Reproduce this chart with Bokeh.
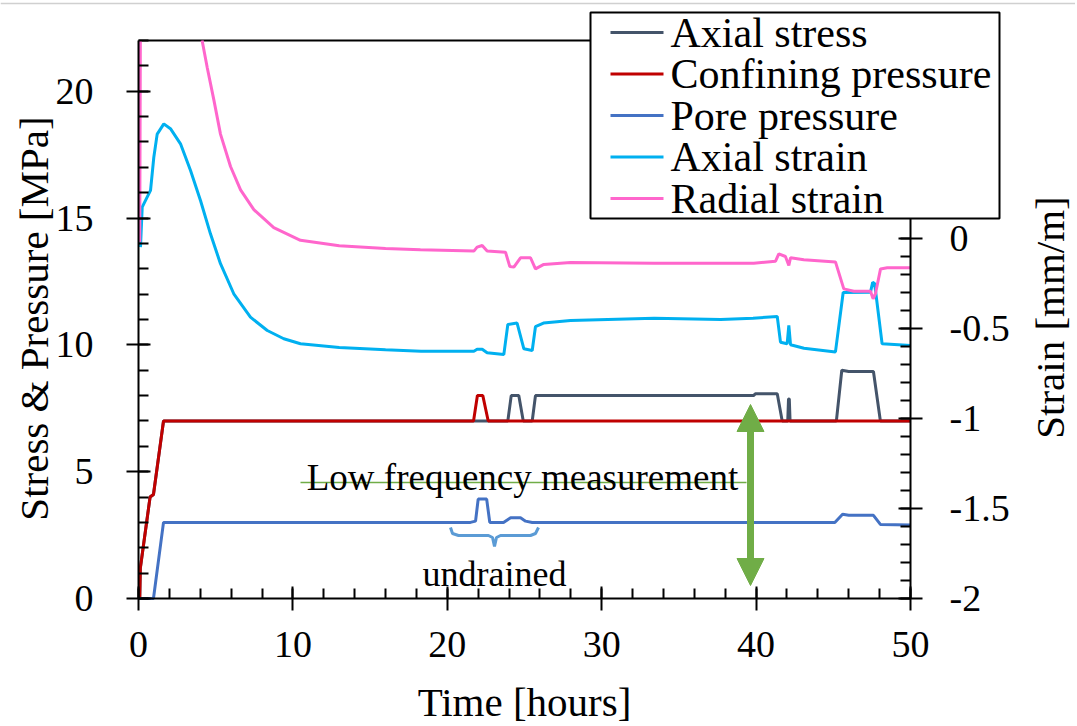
from bokeh.plotting import figure
from bokeh.models import (Range1d, LinearAxis, SingleIntervalTicker, FixedTicker,
                          Arrow, NormalHead, Label, CustomJSTickFormatter)
from bokeh.core.properties import value
from bokeh.embed import file_html
from bokeh.resources import INLINE
import math

nan = float("nan")

# ---------------- data ----------------
time_axial_stress = [0, 0.08, 0.12, 0.75, 0.97, 1.62, 23.92, 24.14, 24.63, 24.92, 25.5, 25.71,
                     39.83, 39.95, 41.37, 41.69, 42.05, 42.1, 42.15, 42.2, 45.2, 45.55, 46.0,
                     47.6, 48.05, 50]
axial_stress = [0, 0, 1.2, 4.0, 4.1, 7.0, 7.0, 8.0, 8.0, 7.0, 7.0, 8.0,
                8.0, 8.07, 8.07, 7.0, 7.0, 7.87, 7.87, 7.0, 7.0, 9.0, 8.95,
                8.95, 7.0, 7.0]

time_confining = [0, 0.08, 0.12, 0.75, 0.97, 1.62, 21.7, 21.95, 22.3, 22.65, 50]
confining_pressure = [0, 0, 1.2, 4.0, 4.1, 7.0, 7.0, 8.0, 8.0, 7.0, 7.0]

time_pore = [0, 0.97, 1.62, 21.5, 21.83, 22.0, 22.55, 22.75, 23.64, 24.1, 24.74, 25.07, 25.5,
             45.1, 45.6, 46.0, 47.6, 48.05, 50]
pore_pressure = [0, 0, 3.0, 3.0, 3.05, 3.92, 3.92, 3.0, 3.0, 3.18, 3.18, 3.05, 3.0,
                 3.0, 3.32, 3.28, 3.28, 2.92, 2.9]

time_axial_strain = [0.13, 0.24, 0.56, 0.78, 0.99, 1.21, 1.64, 2.07, 2.72, 3.37, 4.02, 4.66,
                     5.31, 6.17, 7.25, 8.34, 9.41, 10.49, 13.0, 16.0, 18.3, 21.72, 21.93,
                     22.26, 22.58, 23.66, 23.92, 24.52, 24.96, 25.5, 25.71, 26.23, 27.98,
                     33.4, 37.7, 39.8, 41.37, 41.58, 42.01, 42.12, 42.23, 43.1, 45.14,
                     45.64, 47.41, 47.55, 47.67, 47.75, 48.16, 50]
axial_strain = [-0.048, 0.174, 0.23, 0.267, 0.45, 0.58, 0.637, 0.61, 0.526, 0.378, 0.21, 0.026,
                -0.14, -0.307, -0.437, -0.511, -0.557, -0.585, -0.605, -0.618, -0.626, -0.626,
                -0.615, -0.615, -0.635, -0.645, -0.478, -0.47, -0.613, -0.622, -0.49, -0.47,
                -0.455, -0.443, -0.45, -0.443, -0.433, -0.576, -0.585, -0.483, -0.59, -0.61,
                -0.63, -0.3, -0.298, -0.243, -0.25, -0.3, -0.585, -0.594]

time_radial_strain = [0.08, 0.12, nan, 4.12, 4.45, 4.88, 5.31, 5.96, 6.61, 7.47, 8.76, 10.49,
                      13.0, 16.0, 18.26, 21.72, 21.93, 22.26, 22.58, 23.77, 24.05, 24.31,
                      24.74, 25.39, 25.71, 26.25, 27.98, 33.4, 39.85, 41.26, 41.47, 41.9,
                      42.12, 42.23, 43.09, 45.14, 45.68, 46.33, 47.41, 47.58, 47.73, 48.06,
                      48.49, 50]
radial_strain = [-0.02, 1.1, nan, 1.1, 0.95, 0.77, 0.58, 0.4, 0.27, 0.16, 0.06, -0.01,
                 -0.04, -0.055, -0.063, -0.07, -0.048, -0.039, -0.07, -0.076, -0.156, -0.159,
                 -0.107, -0.107, -0.169, -0.144, -0.133, -0.137, -0.137, -0.126, -0.085, -0.1,
                 -0.15, -0.107, -0.118, -0.13, -0.28, -0.293, -0.293, -0.335, -0.307, -0.169,
                 -0.163, -0.163]

series_labels = ["Axial stress", "Confining pressure", "Pore pressure", "Axial strain", "Radial strain"]
series_colors = ["#44546A", "#C00000", "#4472C4", "#00B0F0", "#FF66CC"]

# axis extents and ticks
time_min, time_max = 0, 50
stress_min, stress_max = 0, 22
strain_min, strain_max = -2, 1.1
strain_axis_top = 0.11
strain_major_ticks = [-2, -1.5, -1, -0.5, 0]
strain_minor_ticks = [round(-2 + 0.1 * i, 1) for i in range(21)]

x_title = "Time [hours]"
y_title = "Stress & Pressure [MPa]"
y2_title = "Strain [mm/m]"

# ---------------- annotation text ----------------
note_text = "Low frequency measurement"
brace_text = "undrained"

SERIF = "Liberation Serif"
GREEN = "#70AD47"
BRACE = "#5B9BD5"

# ---------------- layout (pixels) ----------------
W, H = 1075, 724
BOX_L, BOX_R, BOX_T, BOX_B = 138, 910, 40, 598
px_per_hour = (BOX_R - BOX_L) / (time_max - time_min)
px_per_mpa = (BOX_B - BOX_T) / (stress_max - stress_min)
px_per_strain = (BOX_B - BOX_T) / (strain_max - strain_min)


def X(px):
    return time_min + (px - BOX_L) / px_per_hour


def Y(py):
    return stress_min + (BOX_B - py) / px_per_mpa


# the frame covers the whole canvas; the axes are pinned to the plotting box
p = figure(width=W, height=H,
           x_range=Range1d(X(0), X(W)), y_range=Range1d(Y(H), Y(0)),
           output_backend="svg", toolbar_location=None,
           min_border_left=0, min_border_right=0, min_border_top=0, min_border_bottom=0)
p.grid.visible = False
p.outline_line_color = None
p.background_fill_color = "white"
p.border_fill_color = "white"
p.extra_y_ranges = {"strain": Range1d(strain_min - (H - BOX_B) / px_per_strain,
                                      strain_max + BOX_T / px_per_strain)}

xax = p.xaxis[0]
yax = p.yaxis[0]
xax.ticker = SingleIntervalTicker(interval=10, num_minor_ticks=5)
yax.ticker = SingleIntervalTicker(interval=5, num_minor_ticks=5)
xax.bounds = (time_min, time_max)
yax.bounds = (stress_min, stress_max)
xax.fixed_location = stress_min
yax.fixed_location = time_min

right = LinearAxis(y_range_name="strain", fixed_location=time_max,
                   ticker=FixedTicker(ticks=strain_major_ticks, minor_ticks=strain_minor_ticks),
                   formatter=CustomJSTickFormatter(code="return String(Math.round(tick*10)/10);"),
                   bounds=(strain_min, strain_axis_top))
p.add_layout(right, "right")

for ax in [xax, yax, right]:
    ax.axis_line_width = 2
    ax.axis_line_color = "black"
    ax.major_tick_line_width = 2
    ax.major_tick_line_color = "black"
    ax.minor_tick_line_width = 2
    ax.minor_tick_line_color = "black"
    ax.major_tick_in = 12
    ax.major_tick_out = 12
    ax.minor_tick_in = 10
    ax.minor_tick_out = 0
    ax.major_label_text_font = SERIF
    ax.major_label_text_font_size = "38px"
    ax.major_label_text_color = "black"

yax.major_label_standoff = 33
xax.major_label_standoff = 21
right.major_label_standoff = 27

# faint rule along the top of the image and the top edge of the plotting box
p.segment(x0=[X(0)], y0=[Y(3)], x1=[X(W)], y1=[Y(3)], line_color="#d0d0d0", line_width=1.5)
p.segment(x0=[time_min], y0=[stress_max], x1=[time_max], y1=[stress_max],
          line_color="black", line_width=2)

# ---------------- series ----------------
r_ax = p.line(time_axial_stress, axial_stress, line_color=series_colors[0], line_width=3)
r_conf = p.line(time_confining, confining_pressure, line_color=series_colors[1], line_width=3)
r_pore = p.line(time_pore, pore_pressure, line_color=series_colors[2], line_width=3)
r_as = p.line(time_axial_strain, axial_strain, y_range_name="strain",
              line_color=series_colors[3], line_width=3)
r_rs = p.line(time_radial_strain, radial_strain, y_range_name="strain",
              line_color=series_colors[4], line_width=3)

# ---------------- annotations ----------------
p.segment(x0=[X(300)], y0=[Y(482)], x1=[X(746)], y1=[Y(482)], line_color=GREEN, line_width=1.5)
p.add_layout(Label(x=X(522), y=Y(477), text=note_text, text_align="center",
                   text_baseline="alphabetic", text_font=SERIF, text_font_size="37px",
                   text_color="black"))
brace_px = [450, 452, 458, 488, 492, 494, 496, 500, 530, 535, 538]
brace_py = [527, 533, 535, 535, 537, 546, 537, 535, 535, 533, 527]
p.line([X(v) for v in brace_px], [Y(v) for v in brace_py], line_color=BRACE, line_width=3)
p.add_layout(Label(x=X(494), y=Y(573), text=brace_text, text_align="center",
                   text_baseline="alphabetic", text_font=SERIF, text_font_size="36px",
                   text_color="black"))
p.add_layout(Arrow(start=NormalHead(size=27, fill_color=GREEN, line_color=GREEN),
                   end=NormalHead(size=27, fill_color=GREEN, line_color=GREEN),
                   x_start=X(750), y_start=Y(404), x_end=X(750), y_end=Y(585),
                   line_color=GREEN, line_width=7))

# axis titles
p.add_layout(Label(x=X(33), y=Y(318), text=y_title, angle=math.pi / 2,
                   text_align="center", text_baseline="middle", text_font=SERIF,
                   text_font_size="41px", text_color="black"))
p.add_layout(Label(x=X(524), y=Y(701), text=x_title,
                   text_align="center", text_baseline="middle", text_font=SERIF,
                   text_font_size="41px", text_color="black"))
p.add_layout(Label(x=X(1049), y=Y(317), text=y2_title, angle=math.pi / 2,
                   text_align="center", text_baseline="middle", text_font=SERIF,
                   text_font_size="41px", text_color="black"))

# ---------------- legend box (drawn over the plotting box edge) ----------------
leg_l, leg_r, leg_t, leg_b = 590, 999, 12, 218
row_py = [32, 73.5, 115, 156.5, 198]
p.quad(left=[X(leg_l)], right=[X(leg_r)], top=[Y(leg_t)], bottom=[Y(leg_b)],
       fill_color="white", line_color="black", line_width=2)
p.segment(x0=[X(610)] * 5, x1=[X(663)] * 5, y0=[Y(v) for v in row_py], y1=[Y(v) for v in row_py],
          line_color=series_colors, line_width=3)
p.text(x=[X(670)] * 5, y=[Y(v) for v in row_py], text=series_labels,
       text_font=value(SERIF), text_font_size="42px", text_color="black",
       text_baseline="middle", text_align="left")

open("out.html", "w").write(file_html(p, INLINE))
